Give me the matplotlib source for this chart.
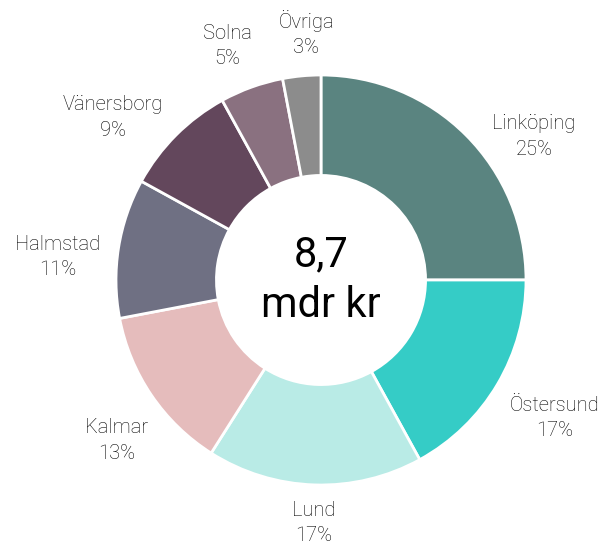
import numpy as np
import matplotlib.pyplot as plt
from matplotlib import font_manager

# Data
orter = ['Linköping', 'Östersund', 'Lund', 'Kalmar', 'Halmstad', 'Vänersborg', 'Solna', 'Övriga']
andel = [25, 17, 17, 13, 11, 9, 5, 3]
farger = ['#5a8480', '#35ccc6', '#b9ebe6', '#e5bcbc', '#6f7083', '#63475c', '#8a7180', '#8c8c8c']
total_text = '8,7\nmdr kr'

names = {f.name for f in font_manager.fontManager.ttflist}
font = 'Liberation Sans Narrow' if 'Liberation Sans Narrow' in names else 'Roboto'
plt.rcParams['font.family'] = [font, 'DejaVu Sans']

fig = plt.figure(figsize=(6.14, 5.5), dpi=100)
ax = fig.add_axes([0, 0, 1, 1])

cx, cy, R = 321, 270, 205
wedges, _ = ax.pie(andel, colors=farger, startangle=90, counterclock=False,
                   center=(cx, cy), radius=R, frame=True,
                   wedgeprops=dict(width=R * 0.49, edgecolor='white', linewidth=2))
ax.set_xlim(0, 614)
ax.set_ylim(0, 550)
ax.set_aspect('equal')
ax.axis('off')

# label placement (angle tweak, distance in px)
tweak = [-11, 0, 0, 4, 4, 7, 2, -2]
dist = [257, 271, 243, 260, 264, 264, 252, 247]
for w, namn, p, dt, d in zip(wedges, orter, andel, tweak, dist):
    ang = np.deg2rad((w.theta1 + w.theta2) / 2 + dt)
    ax.text(cx + d * np.cos(ang), cy + d * np.sin(ang), f'{namn}\n{p}%',
            ha='center', va='center', fontsize=14.5, color='black',
            fontweight='light', linespacing=1.45)

ax.text(cx, cy, total_text, ha='center', va='center', fontsize=30,
        color='black', fontweight='normal', linespacing=1.3)

fig.savefig('out.png', dpi=100)
